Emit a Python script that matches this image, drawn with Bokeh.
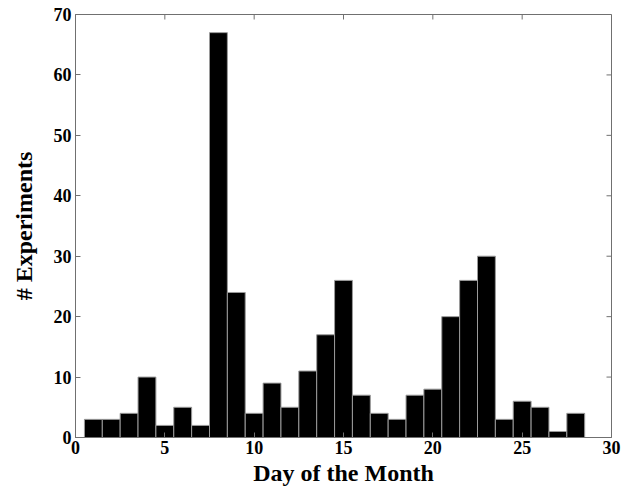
import math
from bokeh.plotting import figure
from bokeh.models import FixedTicker, Range1d, ColumnDataSource
from bokeh.embed import file_html
from bokeh.resources import INLINE

days = list(range(1, 29))
counts = [3, 3, 4, 10, 2, 5, 2, 67, 24, 4, 9, 5, 11, 17, 26, 7, 4, 3, 7, 8, 20, 26, 30, 3, 6, 5, 1, 4]
x_ticks = [0, 5, 10, 15, 20, 25, 30]
y_ticks = [0, 10, 20, 30, 40, 50, 60, 70]
x_min, x_max = 0, 30
y_min, y_max = 0, 70

src = ColumnDataSource(dict(day=days, count=counts))

p = figure(width=621, height=489, output_backend="svg", toolbar_location=None,
           x_range=Range1d(x_min, x_max), y_range=Range1d(y_min, y_max),
           min_border_left=75, min_border_right=10, min_border_top=14, min_border_bottom=52)
p.vbar(x="day", top="count", width=1.0, bottom=0, source=src,
       fill_color="black", line_color="#9a9a9a", line_width=1)

# mirrored inward ticks on the right and top edges
p.ray(x=[x_max] * len(y_ticks), y=y_ticks, length=5, length_units="screen",
      angle=math.pi, line_color="#707070", line_width=1)
p.ray(x=x_ticks, y=[y_max] * len(x_ticks), length=5, length_units="screen",
      angle=-math.pi / 2, line_color="#707070", line_width=1)

p.grid.visible = False
p.outline_line_color = "#707070"
p.background_fill_color = "white"
p.border_fill_color = "white"

font = "Liberation Serif"
for ax, ticks in ((p.xaxis[0], x_ticks), (p.yaxis[0], y_ticks)):
    ax.ticker = FixedTicker(ticks=ticks)
    ax.minor_tick_line_color = None
    ax.major_tick_in = 5
    ax.major_tick_out = 0
    ax.axis_line_color = "#707070"
    ax.major_tick_line_color = "#707070"
    ax.major_label_text_font = font
    ax.major_label_text_font_style = "bold"
    ax.major_label_text_font_size = "18px"
    ax.major_label_text_color = "black"
    ax.axis_label_text_font = font
    ax.axis_label_text_font_style = "bold"
    ax.axis_label_text_font_size = "24px"
    ax.axis_label_text_color = "black"

p.xaxis.axis_label = "Day of the Month"
p.yaxis.axis_label = "# Experiments"
p.xaxis.major_label_standoff = 3
p.yaxis.major_label_standoff = 4
p.xaxis.axis_label_standoff = 3
p.yaxis.axis_label_standoff = 14

open("out.html", "w").write(file_html(p, INLINE))
